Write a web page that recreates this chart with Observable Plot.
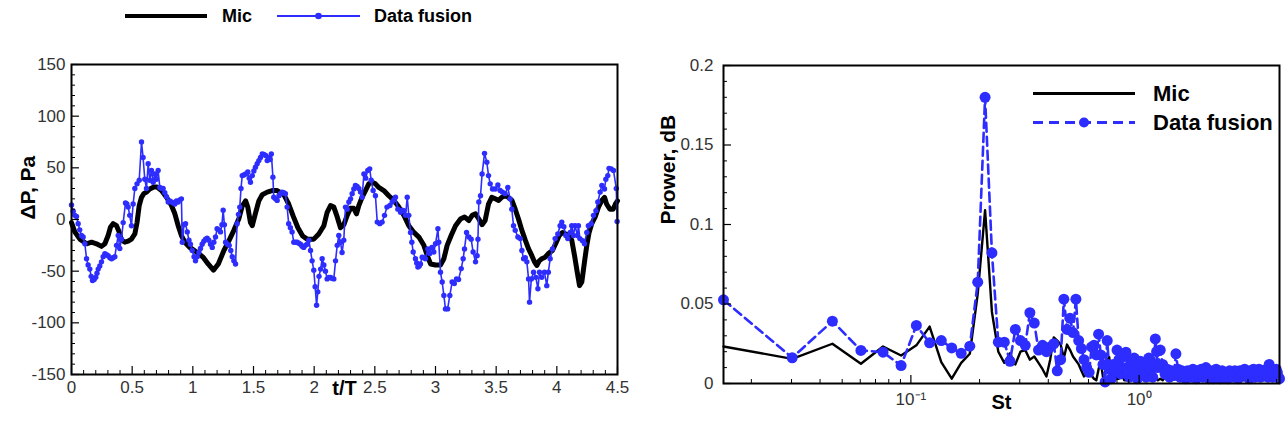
<!DOCTYPE html>
<html>
<head>
<meta charset="utf-8">
<script src="https://cdn.jsdelivr.net/npm/d3@7"></script>
<script src="https://cdn.jsdelivr.net/npm/@observablehq/plot@0.6"></script>
<style>
  html, body { margin: 0; padding: 0; background: #fff; }
  #wrap { position: relative; width: 1285px; height: 430px; overflow: hidden; font-family: "Liberation Sans", Arial, Helvetica, sans-serif; }
  #left, #right { position: absolute; top: 0; }
  #left { left: 0; }
  #right { left: 640px; }
  .legend { position: absolute; font-weight: bold; color: #000; }
  .row { display: flex; align-items: center; }
  .row svg { display: block; }
  #legTop { left: 125px; top: 4px; font-size: 18px; }
  #legRight { left: 1033px; top: 79px; font-size: 22px; }
  #legRight .row { height: 29px; }
</style>
</head>
<body>
<div id="wrap">
  <div id="left"></div>
  <div id="right"></div>
  <div class="legend" id="legTop"></div>
  <div class="legend" id="legRight"></div>
</div>
<script>
// ---------- Left panel: pressure fluctuation vs t/T ----------
const micT = [0,0.027,0.069,0.124,0.165,0.206,0.247,0.275,0.302,0.321,
0.343,0.371,0.393,0.412,0.44,0.467,0.494,0.522,0.54,0.558,
0.577,0.596,0.618,0.645,0.678,0.706,0.742,0.783,0.824,0.852,
0.879,0.906,0.934,0.975,1.03,1.085,1.126,1.17,1.21,1.256,
1.3,1.338,1.38,1.407,1.435,1.453,1.475,1.49,1.516,1.544,
1.572,1.613,1.654,1.695,1.75,1.79,1.828,1.866,1.905,1.942,
1.997,2.038,2.08,2.107,2.135,2.162,2.19,2.217,2.245,2.272,
2.3,2.325,2.349,2.368,2.395,2.423,2.45,2.478,2.505,2.533,
2.574,2.615,2.657,2.698,2.74,2.78,2.822,2.863,2.904,2.937,
2.96,3.0,3.041,3.069,3.096,3.129,3.165,3.206,3.239,3.275,
3.302,3.33,3.357,3.384,3.409,3.437,3.464,3.492,3.52,3.547,
3.574,3.6,3.63,3.657,3.684,3.712,3.74,3.767,3.794,3.816,
3.835,3.855,3.876,3.904,3.93,3.964,3.99,4.02,4.047,4.074,
4.1,4.123,4.146,4.168,4.187,4.206,4.228,4.247,4.266,4.288,
4.316,4.343,4.371,4.393,4.41,4.437,4.464,4.483,4.5];
const micP = [-3,-12,-19,-23.5,-22,-23.5,-26,-23.5,-15.5,-7.5,
-4,-6,-12,-20,-22,-21,-19,-14,-3,13.5,
21.5,25,26.5,29.5,31.5,31.5,28,21.5,13.5,5.5,
-6,-15.5,-22,-27,-31.5,-36.5,-43,-49,-43,-30,
-20,-10.5,1,13,18,12,-3,-6,6,18,
24,26.5,28,28,24,15,3,-8,-16,-19,
-19,-14,-6,7,13.5,12,2.5,-8,-5,4,
11,11,5.5,13.5,21.5,28,34.5,36,34.5,31,
28,23,18.5,12,4,-6,-12.5,-17,-25,-36.5,
-43,-44,-44,-38,-25,-15.5,-6,0.5,2.5,-1,
4,5.5,0.5,-5,-1,15,21.5,20,18.5,21.5,
23,21.5,18.5,10,0.5,-10.5,-20,-28.5,-35,-41,
-44.5,-40,-38,-36.5,-33,-30,-23.5,-15.5,-12.5,-14,
-15.5,-20,-35,-51,-64,-60.5,-41,-25,-12.5,-4,
2.5,12,18.5,21.5,15,10,10,15,18];

const fusionT = [0,0.014,0.027,0.041,0.055,0.068,0.082,0.096,0.11,0.124,
0.137,0.151,0.162,0.173,0.187,0.2,0.21,0.22,0.233,0.247,
0.261,0.275,0.289,0.302,0.316,0.33,0.343,0.357,0.371,0.385,
0.398,0.412,0.426,0.445,0.456,0.467,0.48,0.494,0.508,0.522,
0.54,0.558,0.577,0.59,0.604,0.618,0.632,0.645,0.659,0.673,
0.687,0.7,0.714,0.728,0.742,0.755,0.769,0.783,0.797,0.81,
0.824,0.838,0.852,0.865,0.879,0.893,0.906,0.913,0.927,0.94,
0.954,0.968,0.98,0.995,1.01,1.022,1.036,1.05,1.063,1.077,
1.091,1.105,1.118,1.132,1.146,1.16,1.173,1.187,1.2,1.214,
1.228,1.24,1.25,1.26,1.27,1.285,1.3,1.313,1.325,1.338,
1.352,1.365,1.376,1.387,1.397,1.407,1.42,1.435,1.453,1.465,
1.475,1.49,1.503,1.516,1.53,1.544,1.558,1.572,1.586,1.6,
1.613,1.627,1.637,1.647,1.66,1.667,1.681,1.695,1.71,1.722,
1.736,1.75,1.763,1.777,1.79,1.804,1.818,1.832,1.846,1.86,
1.873,1.887,1.9,1.914,1.928,1.942,1.956,1.97,1.983,1.997,
2.008,2.02,2.03,2.04,2.053,2.066,2.08,2.093,2.107,2.121,
2.135,2.148,2.162,2.176,2.19,2.203,2.217,2.23,2.244,2.258,
2.272,2.286,2.3,2.313,2.327,2.34,2.354,2.368,2.382,2.395,
2.41,2.425,2.442,2.458,2.47,2.486,2.505,2.52,2.541,2.56,
2.58,2.6,2.624,2.643,2.657,2.67,2.69,2.712,2.725,2.74,
2.753,2.767,2.78,2.794,2.805,2.816,2.835,2.845,2.855,2.866,
2.876,2.89,2.904,2.917,2.937,2.953,2.97,2.986,3.0,3.02,
3.027,3.041,3.055,3.069,3.082,3.1,3.118,3.137,3.155,3.173,
3.19,3.212,3.228,3.239,3.256,3.275,3.294,3.31,3.33,3.343,
3.35,3.357,3.371,3.384,3.404,3.423,3.437,3.451,3.47,3.492,
3.514,3.533,3.552,3.574,3.596,3.615,3.629,3.643,3.657,3.679,
3.698,3.712,3.726,3.74,3.753,3.767,3.775,3.79,3.808,3.827,
3.844,3.857,3.876,3.898,3.917,3.93,3.945,3.964,3.986,4.008,
4.027,4.041,4.058,4.074,4.09,4.11,4.123,4.137,4.15,4.17,
4.178,4.19,4.212,4.228,4.247,4.26,4.283,4.302,4.322,4.338,
4.357,4.371,4.393,4.404,4.42,4.43,4.448,4.467,4.49,4.497];
const fusionP = [14,8,4,3,-4,-10,-15.5,-17,-23.5,-38,
-44,-48,-55,-59,-58,-56,-52,-48,-45,-41,
-36,-33,-34,-35,-37,-38,-37,-36,-25,-15.5,
-28,-19,-3,16,15,12,4,-6,15,30,
34.5,38,75,60,39,30,54,38,47.5,36,
44,39,47.5,31,30,30,26,22,17,18,
17,16,15,18,17,19,20,-22,-5,-4,
-12,-20,-24,-30,-36,-40,-36,-32,-28,-24,
-21,-19,-18,-20,-24,-27,-22,-17,-9,-10,
-12,-5,9,-5,-22,-24,-25,-30,-36,-40,
-43,-4,5,12,30,42.5,43,44,46,40,
36,42.5,47,50.5,54,57,60,63.5,63,62,
57,60,58,63.5,41,21.5,20,18.5,23,25,
26.5,26,25,12,-4,-8,-12,-22,-22,-22,
-23,-24,-26,-27,-25,-24,-20,-30,-40,-49,
-65,-83,-70,-55,-48,-38,-44,-50,-57.5,-56,
-56,-57,-57.5,-40,-25,-15.5,-22,-32,-20,12,
10,17,20,25,29.5,33,32,30,26.5,21.5,
44,40,47.5,49,38,28,23,-2.5,-4,-2.5,
4,12,13.5,17,19,21.5,10,7,9,8.5,
4,21.5,4,-12.5,-22,-31.5,-38,-42,-46,-45,
-43,-36.5,-37,-38,-28.5,-33,-27,-31.5,-23.5,-9,
-22,-51,-60.5,-73.5,-86.5,-86.5,-73.5,-60.5,-62,-57.5,
-58,-47.5,-38,-28.5,-12.5,-17,-19,-31.5,-41,-35,
-19,17,23,44,64,55.5,42.5,34.5,29.5,29.5,
33.5,28,26.5,25,31,20,10,-6,-10.5,-17,
-18.5,-30,-38,-37,-41,-57.5,-80,-57.5,-51,-56,
-67,-51,-56,-51,-64,-51,-38,-28.5,-18.5,-14,
-6,-2.5,-7,-15.5,-18.5,-12.5,-6,-15.5,-6,-15.5,
-6,-18.5,-20.5,-23.5,-12.5,-6,-4,4,8.5,17,
26.5,33,29.5,39,42.5,49.5,49,47.5,30,-2];

const leftXMajor = [0, 0.5, 1, 1.5, 2, 2.5, 3, 3.5, 4, 4.5];
const leftXMinor = [0.1,0.2,0.3,0.4,0.6,0.7,0.8,0.9,1.1,1.2,1.3,1.4,1.6,1.7,1.8,1.9,2.1,2.2,2.3,2.4,2.6,2.7,2.8,2.9,3.1,3.2,3.3,3.4,3.6,3.7,3.8,3.9,4.1,4.2,4.3,4.4];
const leftYMajor = [-150, -100, -50, 0, 50, 100, 150];
const leftYMinor = [-140,-130,-120,-110,-90,-80,-70,-60,-40,-30,-20,-10,10,20,30,40,60,70,80,90,110,120,130,140];

// ---------- Right panel: power spectrum vs St ----------
const st = [0.0151,0.0302,0.0453,0.0604,0.0755,0.0906,0.1057,0.1208,0.1359,0.151,
0.1661,0.1812,0.1963,0.2114,0.2265,0.2416,0.2567,0.2718,0.2869,0.302,
0.3171,0.3322,0.3473,0.3624,0.3775,0.3926,0.4077,0.4228,0.4379,0.453,
0.4681,0.4832,0.4983,0.5134,0.5285,0.5436,0.5587,0.5738,0.5889,0.604,
0.6191,0.6342,0.6493,0.6644,0.6795,0.6946,0.7097,0.7248,0.7399,0.755,
0.7701,0.7852,0.8003,0.8154,0.8305,0.8456,0.8607,0.8758,0.8909,0.906,
0.9211,0.9362,0.9513,0.9664,0.9815,0.9966,1.0117,1.0268,1.0419,1.057,
1.0721,1.0872,1.1023,1.1174,1.1325,1.1476,1.1627,1.1778,1.1929,1.208,
1.2382,1.2684,1.2986,1.3288,1.359,1.3892,1.4194,1.4496,1.4798,1.51,
1.5402,1.5704,1.6006,1.6308,1.661,1.6912,1.7214,1.7516,1.7818,1.812,
1.8422,1.8724,1.9026,1.9328,1.963,1.9932,2.0234,2.0536,2.0838,2.114,
2.1442,2.1744,2.2046,2.2348,2.265,
2.3103,2.3556,2.4009,2.4462,2.4915,2.5368,2.5821,2.6274,2.6727,2.718,
2.7633,2.8086,2.8539,2.8992,2.9445,2.9898,3.0351,3.0804,3.1257,3.171,
3.2163,3.2616,3.3069,3.3522,3.3975,3.4428,3.4881,3.5334,3.5787,3.624,
3.6693,3.7146,3.7599,3.8052,3.8505,3.8958,3.9411,3.9864,4.0317,4.077,
4.1223];
const micPower = [0.0233,0.0155,0.025,0.0124,0.0233,0.0176,0.024,0.0358,0.0134,0.003,
0.013,0.0187,0.0564,0.109,0.045,0.02,0.013,0.019,0.012,0.02,
0.021,0.015,0.017,0.013,0.009,0.0044,0.015,0.029,0.027,0.0245,
0.016,0.0245,0.021,0.017,0.0145,0.012,0.008,0.0044,0.006,0.008,
0.005,0.003,0.002,0.009,0.0135,0.004,0.007,0.0145,0.0166,0.001,
0.004,0.006,0.003,0.003,0.005,0.005,0.002,0.002,0.004,0.004,
0.003,0.003,0.005,0.005,0.002,0.002,0.004,0.003,0.004,0.003,
0.002,0.003,0.004,0.002,0.003,0.003,0.002,0.004,0.003,0.002,
0.003,0.002,0.004,0.002,0.003,0.002,0.003,0.004,0.002,0.003,
0.002,0.003,0.002,0.004,0.002,0.003,0.002,0.003,0.002,0.003,
0.002,0.003,0.002,0.002,0.003,0.002,0.003,0.002,0.002,0.003,
0.002,0.002,0.003,0.002,0.002,
0.002,0.003,0.002,0.002,0.003,0.002,0.002,0.003,0.002,0.002,
0.003,0.002,0.002,0.002,0.003,0.002,0.002,0.003,0.002,0.002,
0.002,0.003,0.002,0.002,0.003,0.002,0.002,0.002,0.003,0.002,
0.002,0.002,0.003,0.002,0.002,0.002,0.003,0.002,0.002,0.002,
0.002];
const fusionPower = [0.0526,0.0162,0.0392,0.0208,0.0197,0.0113,0.0365,0.0256,0.027,0.0224,
0.019,0.0235,0.0637,0.18,0.0822,0.026,0.026,0.014,0.034,0.027,
0.024,0.0445,0.038,0.021,0.024,0.02,0.023,0.025,0.008,0.015,
0.053,0.034,0.041,0.032,0.053,0.027,0.022,0.015,0.01,0.007,
0.023,0.024,0.018,0.031,0.018,0.012,0.001,0.027,0.009,0.003,
0.012,0.008,0.021,0.015,0.006,0.01,0.017,0.0197,0.01,0.004,
0.013,0.008,0.016,0.01,0.003,0.008,0.014,0.006,0.012,0.007,
0.004,0.011,0.016,0.008,0.009,0.004,0.012,0.028,0.02,0.01,
0.021,0.012,0.006,0.009,0.004,0.008,0.005,0.0187,0.009,0.004,
0.008,0.005,0.003,0.008,0.006,0.004,0.009,0.006,0.003,0.008,
0.005,0.009,0.004,0.007,0.01,0.006,0.003,0.008,0.006,0.003,
0.007,0.009,0.005,0.007,0.003,
0.008,0.005,0.007,0.003,0.008,0.006,0.004,0.008,0.006,0.003,
0.008,0.005,0.007,0.009,0.005,0.007,0.003,0.008,0.006,0.009,
0.004,0.007,0.005,0.009,0.004,0.007,0.008,0.005,0.006,0.009,
0.004,0.012,0.007,0.008,0.004,0.008,0.005,0.009,0.007,0.004,
0.003];

const rightXMajor = [0.1, 1];
const rightXMinor = [0.02,0.03,0.04,0.05,0.06,0.07,0.08,0.09,0.2,0.3,0.4,0.5,0.6,0.7,0.8,0.9,2,3,4];
const rightXLabels = {0.1: "10\u207B\u00B9", 1: "10\u2070"};
const rightYMajor = [0, 0.05, 0.1, 0.15, 0.2];
const rightYMinor = [0.01,0.02,0.03,0.04,0.06,0.07,0.08,0.09,0.11,0.12,0.13,0.14,0.16,0.17,0.18,0.19];

const seriesNames = ["Mic", "Data fusion"];

// ---------- drawing ----------
const BLUE = "#2d2dff";
const FONT = "'Liberation Sans', Arial, Helvetica, sans-serif";
const zipRows = (xs, ys) => xs.map((x, i) => ({x, y: ys[i]}));
const baseStyle = {fontFamily: FONT, fontSize: "17px", color: "#000", background: "transparent", overflow: "visible"};

function tickAxes(axisFn, anchor, minor, major) {
  return [
    axisFn(minor, {anchor, tickSize: -4, fill: "none", stroke: "#000", strokeWidth: 1, label: null}),
    axisFn(major, {anchor, tickSize: -8, fill: "none", stroke: "#000", strokeWidth: 1.2, label: null})
  ];
}

const micRows = zipRows(micT, micP);
const fusionRows = zipRows(fusionT, fusionP);

const leftChart = Plot.plot({
  width: 640, height: 430,
  marginLeft: 71, marginRight: 23, marginTop: 64, marginBottom: 56,
  style: baseStyle,
  x: {type: "linear", domain: [0, 4.5], axis: null},
  y: {type: "linear", domain: [-150, 150], axis: null},
  marks: [
    Plot.line(micRows, {x: "x", y: "y", stroke: "#000", strokeWidth: 5, strokeLinejoin: "round", strokeLinecap: "round"}),
    Plot.line(fusionRows, {x: "x", y: "y", stroke: BLUE, strokeWidth: 1.6}),
    Plot.dot(fusionRows, {x: "x", y: "y", r: 2.7, fill: BLUE}),
    ...tickAxes(Plot.axisX, "bottom", leftXMinor, leftXMajor),
    ...tickAxes(Plot.axisY, "left", leftYMinor, leftYMajor),
    Plot.axisX(leftXMajor, {anchor: "bottom", tickSize: 0, tickPadding: 6, tickFormat: d => String(d), fill: "#333", label: null}),
    Plot.axisY(leftYMajor, {anchor: "left", tickSize: 0, tickPadding: 6, tickFormat: d => String(d), fill: "#333", label: null}),
    Plot.frame({stroke: "#000", strokeWidth: 2}),
    Plot.text(["\u0394P, Pa"], {frameAnchor: "left", dx: -43, rotate: -90, fontWeight: "bold", fontSize: 21, fill: "#000"}),
    Plot.text(["t/T"], {frameAnchor: "bottom", dy: 20, fontWeight: "bold", fontSize: 20, fill: "#000"})
  ]
});
document.getElementById("left").append(leftChart);

const micSpec = zipRows(st, micPower);
const fusionSpec = zipRows(st, fusionPower);

const rightChart = Plot.plot({
  width: 645, height: 430,
  marginLeft: 83, marginRight: 6, marginTop: 65, marginBottom: 47,
  style: baseStyle,
  x: {type: "log", domain: [0.0151, 4.1223], axis: null},
  y: {type: "linear", domain: [0, 0.2], axis: null},
  marks: [
    Plot.line(micSpec, {x: "x", y: "y", stroke: "#000", strokeWidth: 2.4, strokeLinejoin: "round"}),
    Plot.line(fusionSpec, {x: "x", y: "y", stroke: BLUE, strokeWidth: 2.6, strokeDasharray: "9,5"}),
    Plot.dot(fusionSpec, {x: "x", y: "y", r: 5.5, fill: BLUE}),
    ...tickAxes(Plot.axisX, "bottom", rightXMinor, rightXMajor),
    ...tickAxes(Plot.axisY, "left", rightYMinor, rightYMajor),
    Plot.axisX(rightXMajor, {anchor: "bottom", tickSize: 0, tickPadding: 9, tickFormat: d => rightXLabels[d], fill: "#333", label: null}),
    Plot.axisY(rightYMajor, {anchor: "left", tickSize: 0, tickPadding: 10, tickFormat: d => String(d), fill: "#333", label: null}),
    Plot.frame({stroke: "#000", strokeWidth: 2}),
    Plot.text(["Prower, dB"], {frameAnchor: "left", dx: -55, rotate: -90, fontWeight: "bold", fontSize: 21, fill: "#000"}),
    Plot.text(["St"], {frameAnchor: "bottom", dy: 25, fontWeight: "bold", fontSize: 20, fill: "#000"})
  ]
});
document.getElementById("right").append(rightChart);

// ---------- legends (HTML with small swatches) ----------
function swatch(w, h, {stroke, width, dash, dot}) {
  const svg = d3.create("svg").attr("width", w).attr("height", h);
  svg.append("line").attr("x1", 0).attr("x2", w).attr("y1", h / 2).attr("y2", h / 2)
    .attr("stroke", stroke).attr("stroke-width", width).attr("stroke-dasharray", dash || null);
  if (dot) svg.append("circle").attr("cx", w / 2).attr("cy", h / 2).attr("r", dot).attr("fill", stroke);
  return svg.node();
}
function legendItem(parent, sw, label, gap, after) {
  const item = d3.select(parent).append("div").attr("class", "row").style("display", "inline-flex").style("margin-right", after + "px");
  item.node().append(sw);
  item.append("span").style("margin-left", gap + "px").text(label);
  return item;
}
const legTopEl = document.getElementById("legTop");
legTopEl.style.display = "flex";
legendItem(legTopEl, swatch(82, 24, {stroke: "#000", width: 4}), seriesNames[0], 15, 25);
legendItem(legTopEl, swatch(83, 24, {stroke: BLUE, width: 2, dot: 3.3}), seriesNames[1], 14, 0);

const legRightEl = document.getElementById("legRight");
const r1 = d3.select(legRightEl).append("div").attr("class", "row");
r1.node().append(swatch(102, 29, {stroke: "#000", width: 3}));
r1.append("span").style("margin-left", "18px").text(seriesNames[0]);
const r2 = d3.select(legRightEl).append("div").attr("class", "row");
r2.node().append(swatch(102, 29, {stroke: BLUE, width: 3, dash: "10,6", dot: 5}));
r2.append("span").style("margin-left", "18px").text(seriesNames[1]);
</script>
</body>
</html>
